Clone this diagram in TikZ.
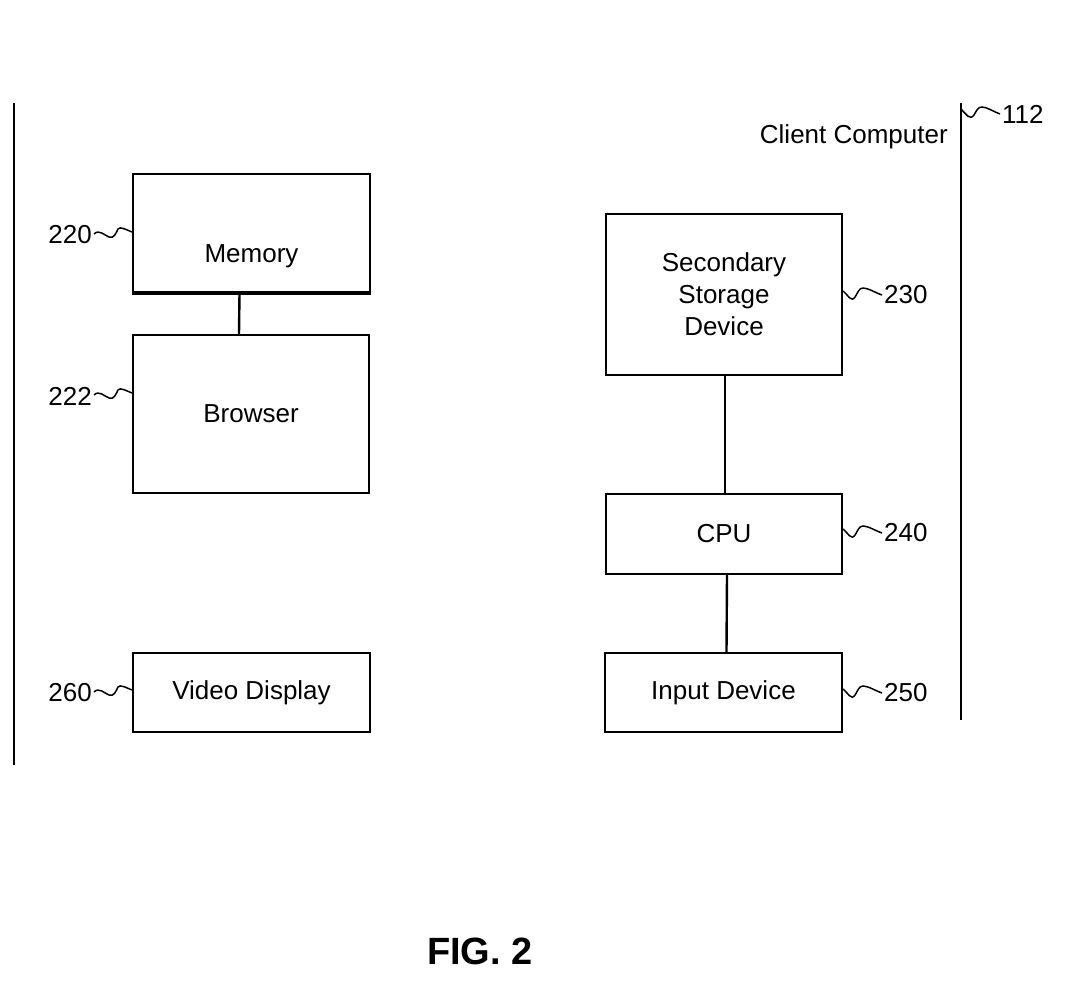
\documentclass[tikz,border=0pt]{standalone}
\usepackage{fontspec}
\setmainfont{Liberation Sans}
\begin{document}
\begin{tikzpicture}[x=1pt,y=-1pt,
  box/.style={draw,line width=2.2pt,rectangle,inner sep=0pt,align=center,font=\fontsize{26}{32}\selectfont},
  lbl/.style={inner sep=0pt,font=\fontsize{26}{32}\selectfont},
  sq/.style={line width=1.5pt},
  conn/.style={line width=2.4pt}]
\useasboundingbox (0,0) rectangle (1072,985);
% enclosure lines
\coordinate (lt) at (14,103);
\coordinate (lb) at (14,765);
\coordinate (rt) at (961,103);
\coordinate (rb) at (961,720);
\draw[line width=2.6pt] (lt) -- (lb);
\draw[line width=2.6pt] (rt) -- (rb);
% boxes
\node[box,minimum width=237pt,minimum height=118pt] (mem) at (251.5,233) {};
\node[lbl] (memt) at ([yshift=-23pt]mem.center) {Memory};
\node[box,minimum width=236pt,minimum height=158pt] (brw) at (251,414) {Browser};
\node[box,minimum width=237pt,minimum height=79pt] (vid) at (251.5,692.5) {Video Display};
\node[box,minimum width=236pt,minimum height=161pt] (ssd) at (724,294.5) {Secondary\\Storage\\Device};
\node[box,minimum width=236pt,minimum height=80pt] (cpu) at (724,534) {CPU};
\node[box,minimum width=237pt,minimum height=79pt] (inp) at (723.5,692.5) {Input Device};
\draw[line width=4pt] (mem.south west) -- (mem.south east);
% connectors
\draw[conn] ([xshift=-12pt]mem.south) -- ([xshift=-12pt]brw.north);
\draw[conn] ([xshift=1pt]ssd.south) -- ([xshift=1pt]cpu.north);
\draw[conn] ([xshift=3pt]cpu.south) -- ([xshift=3pt]inp.north);
% labels
\node[lbl,anchor=east] (l220) at (92,235) {220};
\node[lbl,anchor=east] (l222) at (92,396) {222};
\node[lbl,anchor=east] (l260) at (92,693) {260};
\node[lbl,anchor=west] (l230) at (884,295) {230};
\node[lbl,anchor=west] (l240) at (884,533) {240};
\node[lbl,anchor=west] (l250) at (884,693) {250};
\node[lbl,anchor=west] (l112) at (1002,114) {112};
\node[lbl,anchor=east] (cc) at (948,137) {Client Computer};
\node[inner sep=0pt,font=\fontsize{38}{40}\selectfont\bfseries] (fig) at (480,951) {FIG. 2};
% squiggles (left)
\foreach \l/\b in {l220/mem, l222/brw, l260/vid}{
  \draw[sq] ([xshift=2pt,yshift=1pt]\l.east) .. controls +(5,-5) and +(-5,-2) .. ++(15,3)
     .. controls +(5,2) and +(-2,4) .. ++(9,-8)
     .. controls +(2,-3) and +(-5,-2) .. ([yshift=3pt]\b.west |- \l.east);
}
% squiggles (right)
\foreach \l/\b in {l230/ssd, l240/cpu, l250/inp}{
  \draw[sq] (\b.east |- \l.west) ++(0,-4) .. controls +(5,4) and +(-4,6) .. ++(12,6)
     .. controls +(3,-5) and +(-4,0) .. ++(8,-9)
     .. controls +(5,0) and +(-6,-2) .. ([xshift=-2pt]\l.west);
}
\draw[sq] (rt |- l112.west) ++(0,-5) .. controls +(5,5) and +(-4,6) .. ++(13,6)
     .. controls +(3,-5) and +(-4,0) .. ++(8,-8)
     .. controls +(5,0) and +(-6,-2) .. ([xshift=-2pt]l112.west);
\end{tikzpicture}
\end{document}
